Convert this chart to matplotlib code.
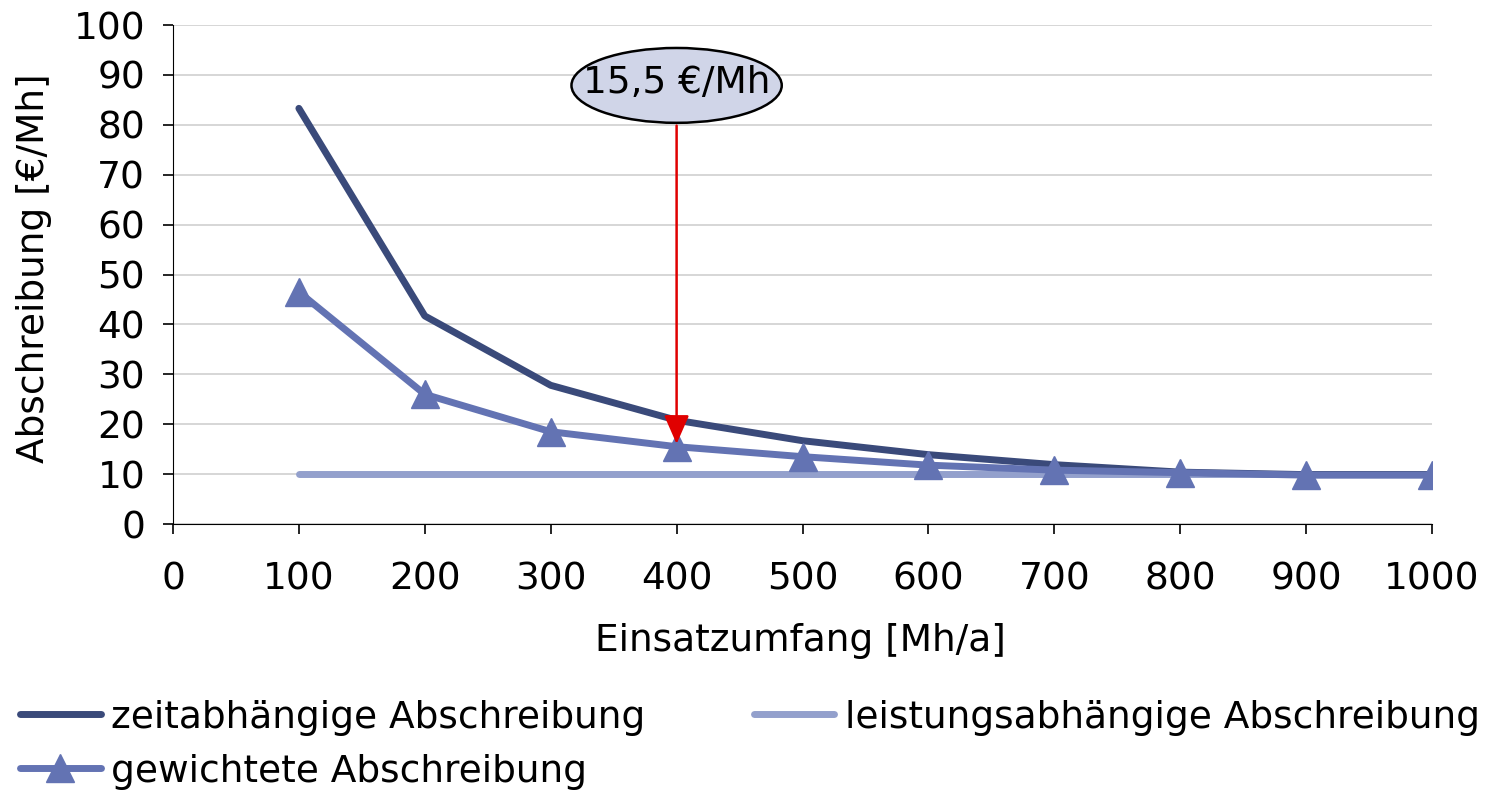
import matplotlib
matplotlib.use("Agg")
import matplotlib.pyplot as plt
from matplotlib.patches import Ellipse

plt.rcParams['font.family'] = ['DejaVu Sans']

# Daten
einsatz = [100, 200, 300, 400, 500, 600, 700, 800, 900, 1000]
zeitabh = [83.3, 41.7, 27.8, 20.8, 16.7, 13.9, 11.9, 10.4, 9.9, 9.9]
leistungsabh = [10, 10, 10, 10, 10, 10, 10, 10, 10, 10]
gewichtet = [46.5, 26.0, 18.5, 15.5, 13.5, 11.8, 10.8, 10.3, 9.8, 9.8]

anno_x = 400
anno_y = 15.5
anno_text = "15,5 €/Mh"

c_zeit = "#3A4A7A"
c_leist = "#93A0CC"
c_gew = "#6373B3"

fs = 27

fig = plt.figure(figsize=(14.95, 7.94), dpi=100)
ax = fig.add_axes([0.1157, 0.340, 0.9579 - 0.1157, 0.9685 - 0.340])

l_leist, = ax.plot(einsatz, leistungsabh, color=c_leist, linewidth=5,
                   solid_capstyle="round", label="leistungsabhängige Abschreibung", zorder=3)
l_zeit, = ax.plot(einsatz, zeitabh, color=c_zeit, linewidth=5,
                  solid_capstyle="round", label="zeitabhängige Abschreibung", zorder=4)
l_gew, = ax.plot(einsatz, gewichtet, color=c_gew, linewidth=5, marker="^",
                 markersize=20, solid_capstyle="round",
                 label="gewichtete Abschreibung", zorder=5)

ax.set_xlim(0, 1000)
ax.set_ylim(0, 100)
ax.set_xticks(range(0, 1001, 100))
ax.set_yticks(range(0, 101, 10))
ax.yaxis.grid(True, color="#D0D0D0", linewidth=1.2)
ax.set_axisbelow(True)
for s in ["top", "right"]:
    ax.spines[s].set_visible(False)
ax.tick_params(axis="both", labelsize=fs, direction="out", length=7, width=1.2)
ax.tick_params(axis="x", pad=20)
ax.tick_params(axis="y", pad=13)
ax.set_xlabel("Einsatzumfang [Mh/a]", fontsize=fs)
ax.set_ylabel("Abschreibung [€/Mh]", fontsize=fs)
ax.xaxis.set_label_coords(0.498, -0.198)
ax.yaxis.set_label_coords(-0.096, 0.513)

# Annotation
ell = Ellipse((anno_x, 87.9), width=167, height=15, facecolor="#D0D5E8",
              edgecolor="black", linewidth=1.8, zorder=6, clip_on=False)
ax.add_patch(ell)
ax.text(anno_x, 88.3, anno_text, fontsize=fs, ha="center", va="center", zorder=7)
ax.annotate("", xy=(anno_x, anno_y), xytext=(anno_x, 80.4),
            arrowprops=dict(arrowstyle="-|>,head_width=0.35,head_length=0.8",
                            color="#E00000", lw=1.8, mutation_scale=22), zorder=6)

fig.legend([l_zeit, l_gew, l_leist],
           ["zeitabhängige Abschreibung", "gewichtete Abschreibung",
            "leistungsabhängige Abschreibung"],
           ncol=2, loc="upper left", bbox_to_anchor=(0.0134, 0.119),
           frameon=False, fontsize=fs, handlelength=2.15, handletextpad=0.27,
           columnspacing=2.9, labelspacing=0.48, borderaxespad=0, borderpad=0)

fig.savefig("out.png", dpi=100)
